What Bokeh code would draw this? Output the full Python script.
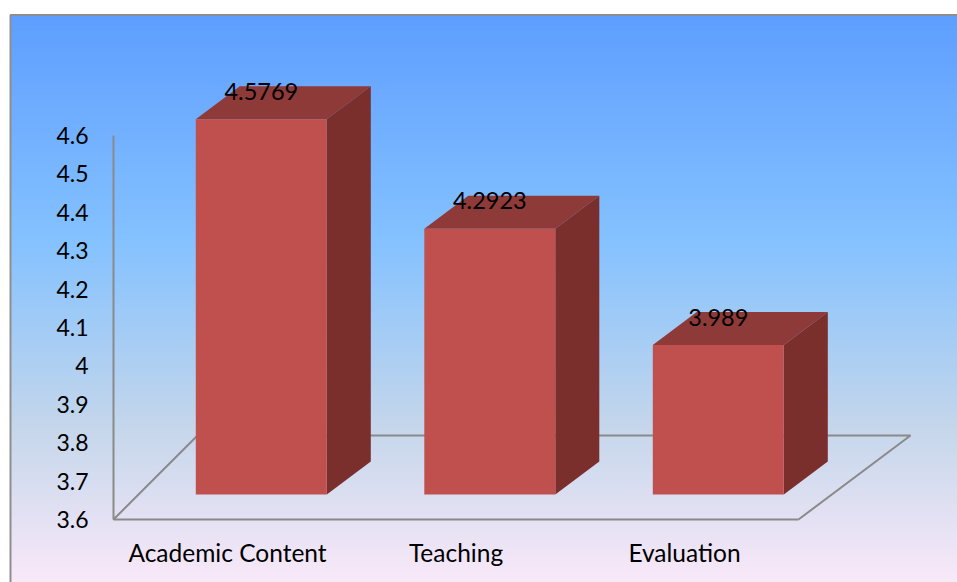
import numpy as np
from bokeh.embed import file_html
from bokeh.resources import INLINE
from bokeh.plotting import figure
from bokeh.models import LinearAxis, FixedTicker, Range1d, ColumnDataSource
from bokeh.core.properties import value

categories = ["Academic Content", "Teaching", "Evaluation"]
scores = [4.5769, 4.2923, 3.989]
y_ticks = [3.6, 3.7, 3.8, 3.9, 4.0, 4.1, 4.2, 4.3, 4.4, 4.5, 4.6]
y_tick_labels = ["3.6", "3.7", "3.8", "3.9", "4", "4.1", "4.2", "4.3", "4.4", "4.5", "4.6"]
y_base = 3.6

# layout, in page pixels
FONT = "Lato"
PAGE_L, PAGE_T, W, H = 0, 0, 957, 582
PX_X0, PX_PER_CAT = 260.8, 228.5     # page x of first bar centre, spacing
PX_Y_BASE, PX_PER_UNIT = 519, 384    # page y of value 3.6, pixels per unit


def X(px):
    return (px - PX_X0) / PX_PER_CAT


def Y(py):
    return y_base + (PX_Y_BASE - py) / PX_PER_UNIT


DX = lambda d: d / PX_PER_CAT
DY = lambda d: d / PX_PER_UNIT

p = figure(width=W, height=H, output_backend="svg", toolbar_location=None,
           x_axis_type=None, y_axis_type=None,
           x_range=Range1d(X(PAGE_L), X(PAGE_L + W)),
           y_range=Range1d(Y(PAGE_T + H), Y(PAGE_T)),
           min_border=0, min_border_left=0, min_border_right=0,
           min_border_top=0, min_border_bottom=0)
p.outline_line_color = None
p.grid.visible = False
p.background_fill_color = "white"
p.border_fill_color = "white"

# background gradient
G_TOP, G_BOT = 14, 600
stops = np.array([0, .39, .70, 1.0])
stop_rgb = np.array([[0x5E, 0x9E, 0xFF], [0x85, 0xC2, 0xFF], [0xC4, 0xD6, 0xEB], [0xFF, 0xEB, 0xFA]], float)
rows = np.arange(G_TOP, PAGE_T + H + 1)
t = (rows - G_TOP) / (G_BOT - G_TOP)
img = np.zeros((len(rows), 1), dtype=np.uint32)
view = img.view(np.uint8).reshape((len(rows), 1, 4))
for c in range(3):
    view[:, 0, c] = np.interp(t, stops, stop_rgb[:, c]).round()
view[:, 0, 3] = 255
p.image_rgba(image=[img[::-1]], x=X(10), y=Y(PAGE_T + H + 1),
             dw=X(PAGE_L + W) - X(10), dh=Y(G_TOP) - Y(PAGE_T + H + 1))

# chart-area border (left and top edges show)
p.line([X(10), X(10), X(PAGE_L + W)], [Y(PAGE_T + H), Y(14.5), Y(14.5)], line_color="#8E8E8E", line_width=2)

# floor outline
GRAY = "#8A8A8A"
p.line([X(113), X(197), X(910), X(798)], [Y(519), Y(435), Y(435), Y(519)], line_color=GRAY, line_width=2)

# 3-D bars
HALF, DEP_X, DEP_Y, FRONT = 65.5, 44, 33, 25
xs = np.arange(len(scores), dtype=float)
vals = np.array(scores)
lo = y_base + DY(FRONT)
top = vals + DY(FRONT)
l, r = xs - DX(HALF), xs + DX(HALF)
dx, dy = DX(DEP_X), DY(DEP_Y)

p.patches([[a, b, b + dx, a + dx] for a, b in zip(l, r)],
          [[v, v, v + dy, v + dy] for v in top],
          fill_color="#8E3A38", line_color=None)
p.patches([[b, b + dx, b + dx, b] for b in r],
          [[lo, lo + dy, v + dy, v] for v in top],
          fill_color="#7A2F2D", line_color=None)
p.quad(left=l, right=r, bottom=lo, top=top, fill_color="#C0504D", line_color=None)

# value labels
src = ColumnDataSource(dict(x=xs, y=top, t=[str(v) for v in scores]))
p.text(x="x", y="y", text="t", source=src, y_offset=-28, text_align="center", text_baseline="middle",
       text_font=value(FONT), text_font_size=value("23.5px"), text_color="black")

# axes
yax = LinearAxis(ticker=FixedTicker(ticks=y_ticks),
                 major_label_overrides=dict(zip(y_ticks, y_tick_labels)),
                 fixed_location=X(113), bounds=(y_ticks[0], y_ticks[-1]))
yax.axis_line_color = GRAY
yax.axis_line_width = 2
yax.major_tick_line_color = None
yax.minor_tick_line_color = None
yax.major_label_standoff = 19
yax.major_label_text_font = FONT
yax.major_label_text_font_size = "23px"
yax.major_label_text_color = "black"
p.add_layout(yax, "left")

label_shift = DX(33.8)
x_ticks = [round(float(i) - label_shift, 4) for i in range(len(categories))]
xax = LinearAxis(ticker=FixedTicker(ticks=x_ticks),
                 major_label_overrides=dict(zip(x_ticks, categories)),
                 fixed_location=y_base, bounds=(X(113), X(798)))
xax.axis_line_color = GRAY
xax.axis_line_width = 2
xax.major_tick_line_color = None
xax.minor_tick_line_color = None
xax.major_label_standoff = 12
xax.major_label_text_font = FONT
xax.major_label_text_font_size = "24.5px"
xax.major_label_text_color = "black"
p.add_layout(xax, "below")

open("out.html", "w").write(file_html(p, INLINE))
